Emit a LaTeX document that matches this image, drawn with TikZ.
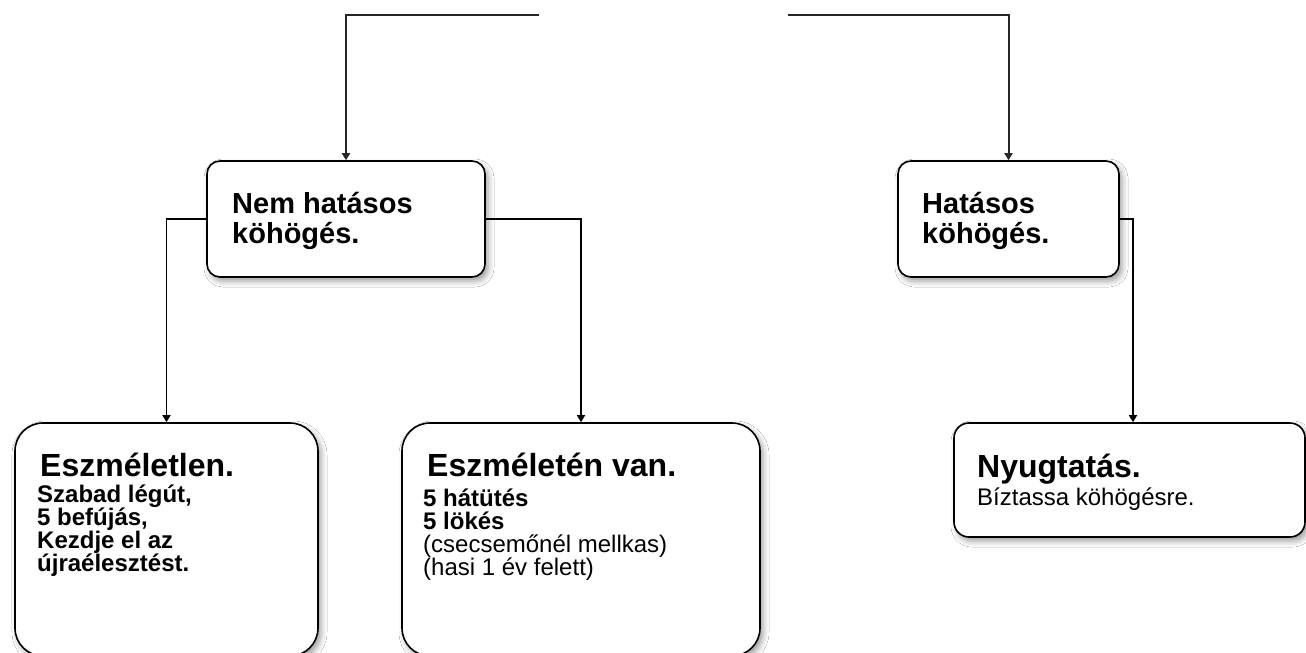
\documentclass[tikz,border=0pt]{standalone}
\usepackage{fontspec}
\setmainfont{Liberation Sans}
\usetikzlibrary{arrows.meta,shadows.blur}
\begin{document}
\begin{tikzpicture}[x=1pt,y=-1pt,
  box/.style={draw=black, line width=1.6pt, fill=white, inner sep=0pt,
    blur shadow={shadow xshift=3pt, shadow yshift=-4pt, shadow blur radius=6pt, shadow opacity=40}},
  conn/.style={line width=1.5pt, -{Triangle[length=7pt,width=8pt]}},
  topline/.style={line width=2pt, draw=black!85, -{Triangle[length=7pt,width=8pt]}},
  title/.style={anchor=base west, inner sep=0pt, align=left, font=\bfseries\fontsize{29}{30}\selectfont},
  big/.style={anchor=base west, inner sep=0pt, font=\bfseries\fontsize{32}{34}\selectfont},
  body/.style={anchor=base west, inner sep=0pt, align=left, font=\fontsize{24}{22.7}\selectfont}]
\useasboundingbox (0,0) rectangle (1306,653);
\fill[white] (0,0) rectangle (1306,653);

\node[box, rounded corners=13pt, minimum width=278pt, minimum height=116pt] (b1) at (346,219) {};
\node[box, rounded corners=13pt, minimum width=221pt, minimum height=116pt] (b2) at (1008.5,219) {};
\node[box, rounded corners=28pt, minimum width=303pt, minimum height=233pt] (b3) at (166.5,539.5) {};
\node[box, rounded corners=28pt, minimum width=358pt, minimum height=233pt] (b4) at (581,539.5) {};
\node[box, rounded corners=15pt, minimum width=351pt, minimum height=114pt] (b5) at (1129.5,480) {};

% multi-line nodes: base anchor sits on the last line's baseline
\node[title] (t1) at (232,243) {Nem hatásos\\köhögés.};
\node[title] (t2) at (922,243) {Hatásos\\köhögés.};

\node[big] (t3) at (40,476) {Eszméletlen.};
\node[body, font=\bfseries\fontsize{24}{22.7}\selectfont] (s3) at (37,571) {Szabad légút,\\5 befújás,\\Kezdje el az\\újraélesztést.};

\node[big] (t4) at (427,476) {Eszméletén van.};
\node[body] (s4) at (423,575) {\textbf{5 hátütés}\\\textbf{5 lökés}\\(csecsemőnél mellkas)\\(hasi 1 év felett)};

\node[big] (t5) at (977,477) {Nyugtatás.};
\node[body] (s5) at (977,505) {Bíztassa köhögésre.};

\coordinate (tl) at (539,15);
\coordinate (tr) at (788,15);
\draw[topline] (tl) -| (b1.north);
\draw[topline] (tr) -| (b2.north);
\draw[conn] (b1.west) -| (b3.north);
\draw[conn] (b1.east) -| (b4.north);
\draw[conn] (b2.east) -| ([xshift=3.5pt]b5.north);
\end{tikzpicture}
\end{document}
